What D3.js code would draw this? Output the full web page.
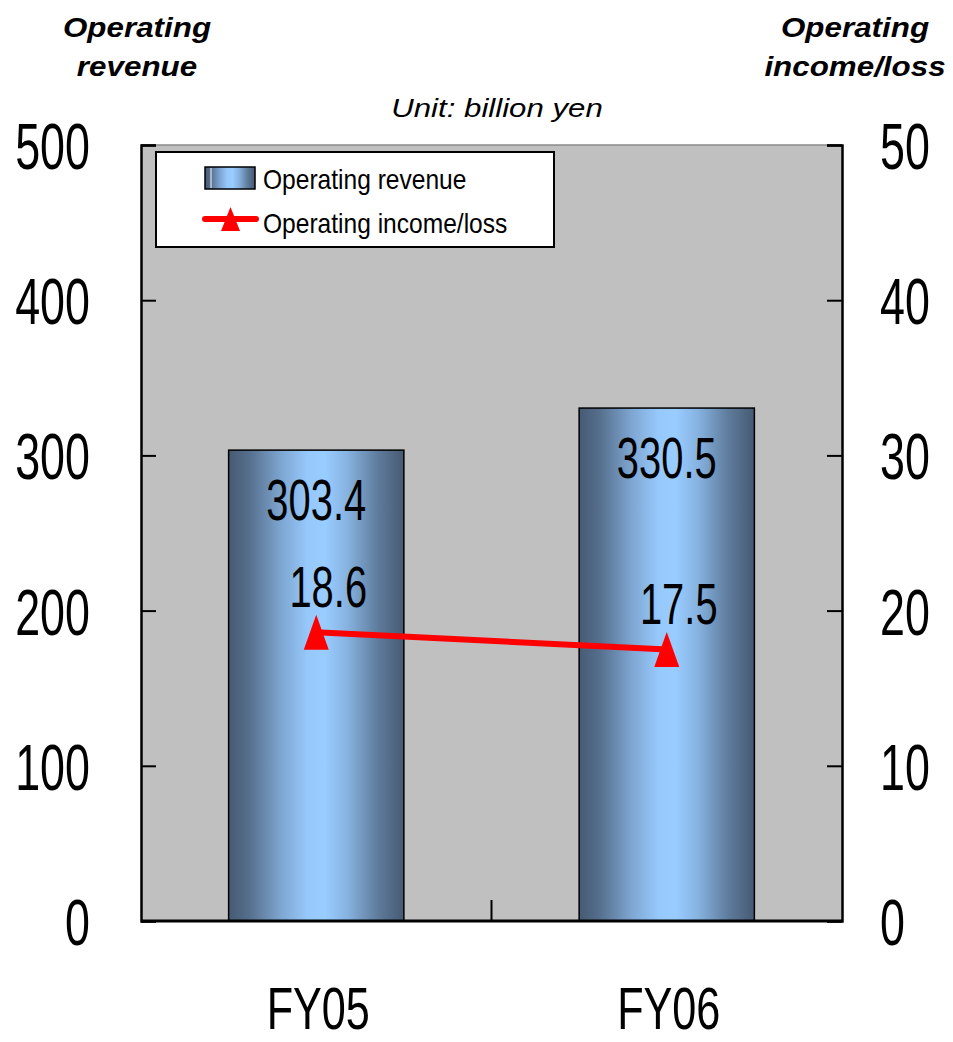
<!DOCTYPE html>
<html>
<head>
<meta charset="utf-8">
<script src="https://cdn.jsdelivr.net/npm/d3@7"></script>
<style>
  html, body { margin: 0; padding: 0; background: #fff; }
  svg { display: block; }
  text { font-family: "Liberation Sans", Arial, sans-serif; fill: #000; }
</style>
</head>
<body>
<svg id="chart" width="953" height="1042"></svg>
<script>
// Fiscal years and values (billion yen)
const categories = ["FY05", "FY06"];
const revenue = [303.4, 330.5];
const income = [18.6, 17.5];
const revenueTicks = [0, 100, 200, 300, 400, 500];
const incomeTicks = [0, 10, 20, 30, 40, 50];

const svg = d3.select("#chart");
const plot = { left: 141, right: 842, top: 145, bottom: 921 };

const x = d3.scaleBand()
  .domain(categories)
  .range([plot.left, plot.right])
  .paddingInner(0.5)
  .paddingOuter(0.25);
const y = d3.scaleLinear().domain([0, 500]).range([plot.bottom, plot.top]);
const y2 = d3.scaleLinear().domain([0, 50]).range([plot.bottom, plot.top]);

// Horizontal squeeze helper for the condensed digits
function placeText(sel, tx, ty, sx, anchor) {
  return sel.attr("x", 0).attr("y", 0)
    .attr("text-anchor", anchor || "middle")
    .attr("transform", `translate(${tx},${ty}) scale(${sx},1)`);
}

// Cylinder-like shading for the bars
const defs = svg.append("defs");
const grad = defs.append("linearGradient").attr("id", "barGrad")
  .attr("x1", "0%").attr("x2", "100%").attr("y1", "0%").attr("y2", "0%");
[
  [0, "#465a73"], [0.12, "#566f8d"], [0.3, "#7ea6d2"], [0.45, "#96c8fb"],
  [0.55, "#99ccff"], [0.68, "#86b2e0"], [0.85, "#5f7c9c"], [1, "#465a73"]
].forEach(([o, c]) => grad.append("stop").attr("offset", o).attr("stop-color", c));

// Plot background
svg.append("rect")
  .attr("x", plot.left).attr("y", plot.top)
  .attr("width", plot.right - plot.left).attr("height", plot.bottom - plot.top)
  .attr("fill", "#c0c0c0");
svg.append("line")
  .attr("x1", plot.left).attr("x2", plot.right)
  .attr("y1", plot.top).attr("y2", plot.top)
  .attr("stroke", "#8a8a8a").attr("stroke-width", 1.5);

// Bars
svg.selectAll("rect.bar").data(categories).join("rect")
  .attr("class", "bar")
  .attr("x", d => x(d))
  .attr("y", (d, i) => y(revenue[i]))
  .attr("width", x.bandwidth())
  .attr("height", (d, i) => y(0) - y(revenue[i]))
  .attr("fill", "url(#barGrad)")
  .attr("stroke", "#000").attr("stroke-width", 1.5);

// Income line
const cx = d => x(d) + x.bandwidth() / 2;
const line = d3.line().x(d => cx(d)).y((d, i) => y2(income[i]));
svg.append("path").datum(categories)
  .attr("d", line)
  .attr("fill", "none").attr("stroke", "#ff0000").attr("stroke-width", 6);

const tri = (w, h) => `M0,${-h / 2}L${w / 2},${h / 2}L${-w / 2},${h / 2}Z`;
svg.selectAll("path.marker").data(categories).join("path")
  .attr("class", "marker")
  .attr("d", tri(25, 35))
  .attr("transform", (d, i) => `translate(${cx(d)},${y2(income[i])})`)
  .attr("fill", "#ff0000");

// Value labels
svg.selectAll("text.rev").data(categories).join("text")
  .attr("class", "rev")
  .each(function (d, i) {
    placeText(d3.select(this), cx(d), y(revenue[i]) + 70, 0.7)
      .style("font-size", "57px").text(revenue[i].toFixed(1));
  });
svg.selectAll("text.inc").data(categories).join("text")
  .attr("class", "inc")
  .each(function (d, i) {
    placeText(d3.select(this), cx(d) + 12, y2(income[i]) - 25, 0.7)
      .style("font-size", "57px").text(income[i].toFixed(1));
  });

// Axes with inward ticks
const axL = svg.append("g").attr("transform", `translate(${plot.left},0)`)
  .call(d3.axisLeft(y).tickValues(revenueTicks).tickSize(-15).tickPadding(51));
const axR = svg.append("g").attr("transform", `translate(${plot.right},0)`)
  .call(d3.axisRight(y2).tickValues(incomeTicks).tickSize(-15).tickPadding(38));
[axL, axR].forEach(g => {
  g.select(".domain").attr("stroke", "#000").attr("stroke-width", 2.5);
  g.selectAll(".tick line").attr("stroke", "#000").attr("stroke-width", 2);
  g.selectAll(".tick text").attr("fill", "#000")
    .style("font-family", "'Liberation Sans', Arial, sans-serif")
    .style("font-size", "65px")
    .attr("dy", "0.36em");
});
// Squeeze the tick digits horizontally around their anchor edge
axL.selectAll(".tick text").each(function () {
  d3.select(this).attr("transform", `translate(${-51},0) scale(0.69,1)`).attr("x", 0);
});
axR.selectAll(".tick text").each(function () {
  d3.select(this).attr("transform", `translate(38,0) scale(0.69,1)`).attr("x", 0);
});

// Bottom axis: baseline plus category boundary ticks
const boundaries = d3.range(categories.length + 1).map(i => plot.left + i * x.step());
svg.append("line")
  .attr("x1", plot.left).attr("x2", plot.right)
  .attr("y1", plot.bottom).attr("y2", plot.bottom)
  .attr("stroke", "#000").attr("stroke-width", 3);
svg.selectAll("line.btick").data(boundaries.slice(1, -1)).join("line")
  .attr("class", "btick")
  .attr("x1", d => d).attr("x2", d => d)
  .attr("y1", plot.bottom).attr("y2", plot.bottom - 21)
  .attr("stroke", "#000").attr("stroke-width", 2);

// Category labels
svg.selectAll("text.cat").data(categories).join("text")
  .attr("class", "cat")
  .each(function (d) {
    placeText(d3.select(this), cx(d) + 2, 1029, 0.72)
      .style("font-size", "60px").text(d);
  });

// Axis titles and unit note
const titleL = ["Operating", "revenue"];
const titleR = ["Operating", "income/loss"];
titleL.forEach((t, i) => {
  placeText(svg.append("text"), 137, 37 + i * 39, 1.12)
    .style("font-size", "28px").style("font-weight", "bold").style("font-style", "italic").text(t);
});
titleR.forEach((t, i) => {
  placeText(svg.append("text"), 855, 37 + i * 39, 1.12)
    .style("font-size", "28px").style("font-weight", "bold").style("font-style", "italic").text(t);
});
placeText(svg.append("text"), 497, 117, 1.2)
  .style("font-size", "26px").style("font-style", "italic").text("Unit: billion yen");

// Legend
const lg = svg.append("g");
lg.append("rect").attr("x", 156).attr("y", 152).attr("width", 398).attr("height", 95)
  .attr("fill", "#fff").attr("stroke", "#000").attr("stroke-width", 2);
lg.append("rect").attr("x", 205).attr("y", 167).attr("width", 50).attr("height", 22)
  .attr("fill", "url(#barGrad)").attr("stroke", "#000").attr("stroke-width", 1.5);
lg.append("line").attr("x1", 211).attr("x2", 211).attr("y1", 168).attr("y2", 188)
  .attr("stroke", "#fff").attr("stroke-width", 1);
lg.append("line").attr("x1", 205).attr("x2", 256).attr("y1", 219).attr("y2", 219)
  .attr("stroke", "#ff0000").attr("stroke-width", 6).attr("stroke-linecap", "round");
lg.append("path").attr("d", tri(19, 24)).attr("transform", "translate(230.5,219)")
  .attr("fill", "#ff0000");
placeText(lg.append("text"), 263, 189, 0.91, "start").style("font-size", "27px").text("Operating revenue");
placeText(lg.append("text"), 263, 233, 0.91, "start").style("font-size", "27px").text("Operating income/loss");
</script>
</body>
</html>
